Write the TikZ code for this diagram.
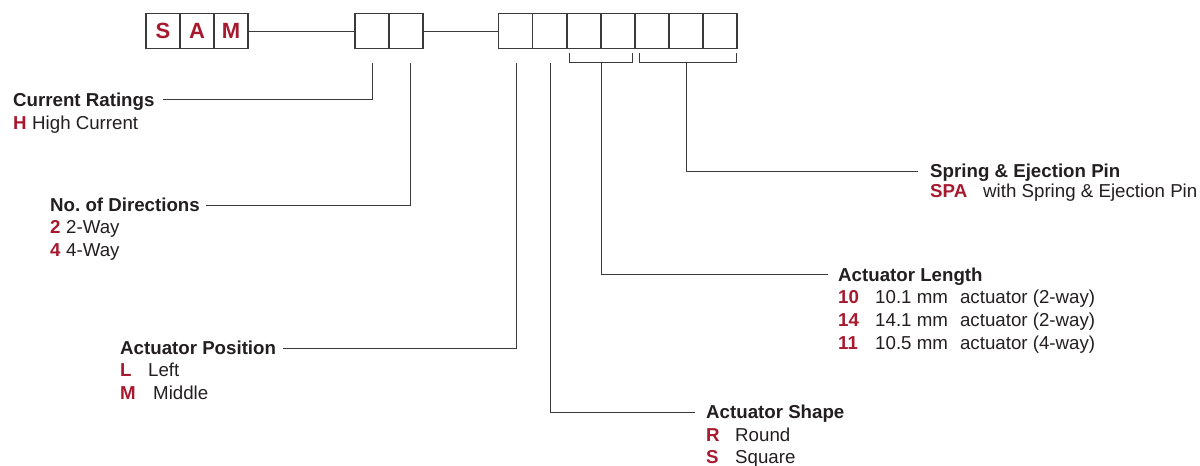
\documentclass[tikz,border=0pt]{standalone}
\usepackage{fontspec}
\setmainfont{Liberation Sans}
\definecolor{codered}{HTML}{A6192E}
\definecolor{txt}{HTML}{231F20}
\definecolor{ln}{HTML}{3A3A3A}
\frenchspacing
\begin{document}
\begin{tikzpicture}[x=1pt,y=-1pt,
  cell/.style={draw=ln,line width=1.2pt,minimum width=34pt,minimum height=35pt,inner sep=0pt,outer sep=0pt,anchor=north west},
  lead/.style={draw=ln,line width=0.9pt},
  title/.style={anchor=base west,inner sep=0pt,font=\fontsize{18.7}{22}\selectfont\bfseries,text=txt},
  code/.style={anchor=base west,inner sep=0pt,font=\fontsize{18.7}{22}\selectfont\bfseries,text=codered},
  desc/.style={anchor=base west,inner sep=0pt,font=\fontsize{18.7}{22}\selectfont,text=txt},
  letter/.style={font=\fontsize{22}{26}\selectfont\bfseries,text=codered}]
\useasboundingbox (0,0) rectangle (1200,466);
% boxes
\node[cell] (b1) at (146,13.5) {};
\node[cell] (b2) at (180,13.5) {};
\node[cell] (b3) at (214,13.5) {};
\node[letter] at (b1.center) {S};
\node[letter] at (b2.center) {A};
\node[letter] at (b3.center) {M};
\node[cell] (b4) at (355,13.5) {};
\node[cell] (b5) at (389,13.5) {};
\node[cell] (b6) at (498.5,13.5) {};
\node[cell] (b7) at (532.5,13.5) {};
\node[cell] (b8) at (567,13.5) {};
\node[cell] (b9) at (601,13.5) {};
\node[cell] (b10) at (635,13.5) {};
\node[cell] (b11) at (669,13.5) {};
\node[cell] (b12) at (703,13.5) {};
\draw[lead] (b3.east) -- (b4.west);
\draw[lead] (b5.east) -- (b6.west);
% brackets
\coordinate (k1a) at (569,52.5);
\coordinate (k1b) at (632,52.5);
\coordinate (k2a) at (639,52.5);
\coordinate (k2b) at (736,52.5);
\draw[lead] (k1a) -- ++(0,10) -| (k1b);
\draw[lead] (k2a) -- ++(0,10) -| (k2b);
% lead end points
\coordinate (l1) at (372,63);
\coordinate (l2) at (410,63);
\coordinate (l3) at (516,63);
\coordinate (l4) at (550,63);
\coordinate (l5) at (601,62.5);
\coordinate (l6) at (686,62.5);
% Current Ratings
\node[title] (t1) at (13,106) {Current Ratings};
\node[code] (c1a) at (13,129) {H};
\node[desc] (d1a) at (32,129) {High Current};
\draw[lead] ([shift={(8,-7)}]t1.base east) -| (l1);
% No. of Directions
\node[title] (t2) at (50,211) {No. of Directions};
\node[code] (c2a) at (50,233) {2};
\node[desc] (d2a) at (66,233) {2-Way};
\node[code] (c2b) at (50,256) {4};
\node[desc] (d2b) at (66,256) {4-Way};
\draw[lead] ([shift={(6,-6)}]t2.base east) -| (l2);
% Actuator Position
\node[title] (t3) at (120,354) {Actuator Position};
\node[code] (c3a) at (120,376) {L};
\node[desc] (d3a) at (148,376) {Left};
\node[code] (c3b) at (120,399) {M};
\node[desc] (d3b) at (153,399) {Middle};
\draw[lead] ([shift={(7,-6)}]t3.base east) -| (l3);
% Actuator Shape
\node[title] (t4) at (706,418) {Actuator Shape};
\node[code] (c4a) at (706,441) {R};
\node[desc] (d4a) at (735,441) {Round};
\node[code] (c4b) at (706,463) {S};
\node[desc] (d4b) at (735,463) {Square};
\draw[lead] ([shift={(-11,-6)}]t4.base west) -| (l4);
% Actuator Length
\node[title] (t5) at (838,281) {Actuator Length};
\node[code] (c5a) at (838,303) {10};
\node[desc] (d5a) at (875,303) {10.1 mm\hspace{0.65em}actuator (2-way)};
\node[code] (c5b) at (838,326) {14};
\node[desc] (d5b) at (875,326) {14.1 mm\hspace{0.65em}actuator (2-way)};
\node[code] (c5c) at (838,349) {11};
\node[desc] (d5c) at (875,349) {10.5 mm\hspace{0.65em}actuator (4-way)};
\draw[lead] ([shift={(-10,-7)}]t5.base west) -| (l5);
% Spring & Ejection Pin
\node[title] (t6) at (930,177) {Spring \& Ejection Pin};
\node[code] (c6a) at (930,197) {SPA};
\node[desc] (d6a) at (983,197) {with Spring \& Ejection Pin};
\draw[lead] ([shift={(-12,-5.5)}]t6.base west) -| (l6);
\end{tikzpicture}
\end{document}
